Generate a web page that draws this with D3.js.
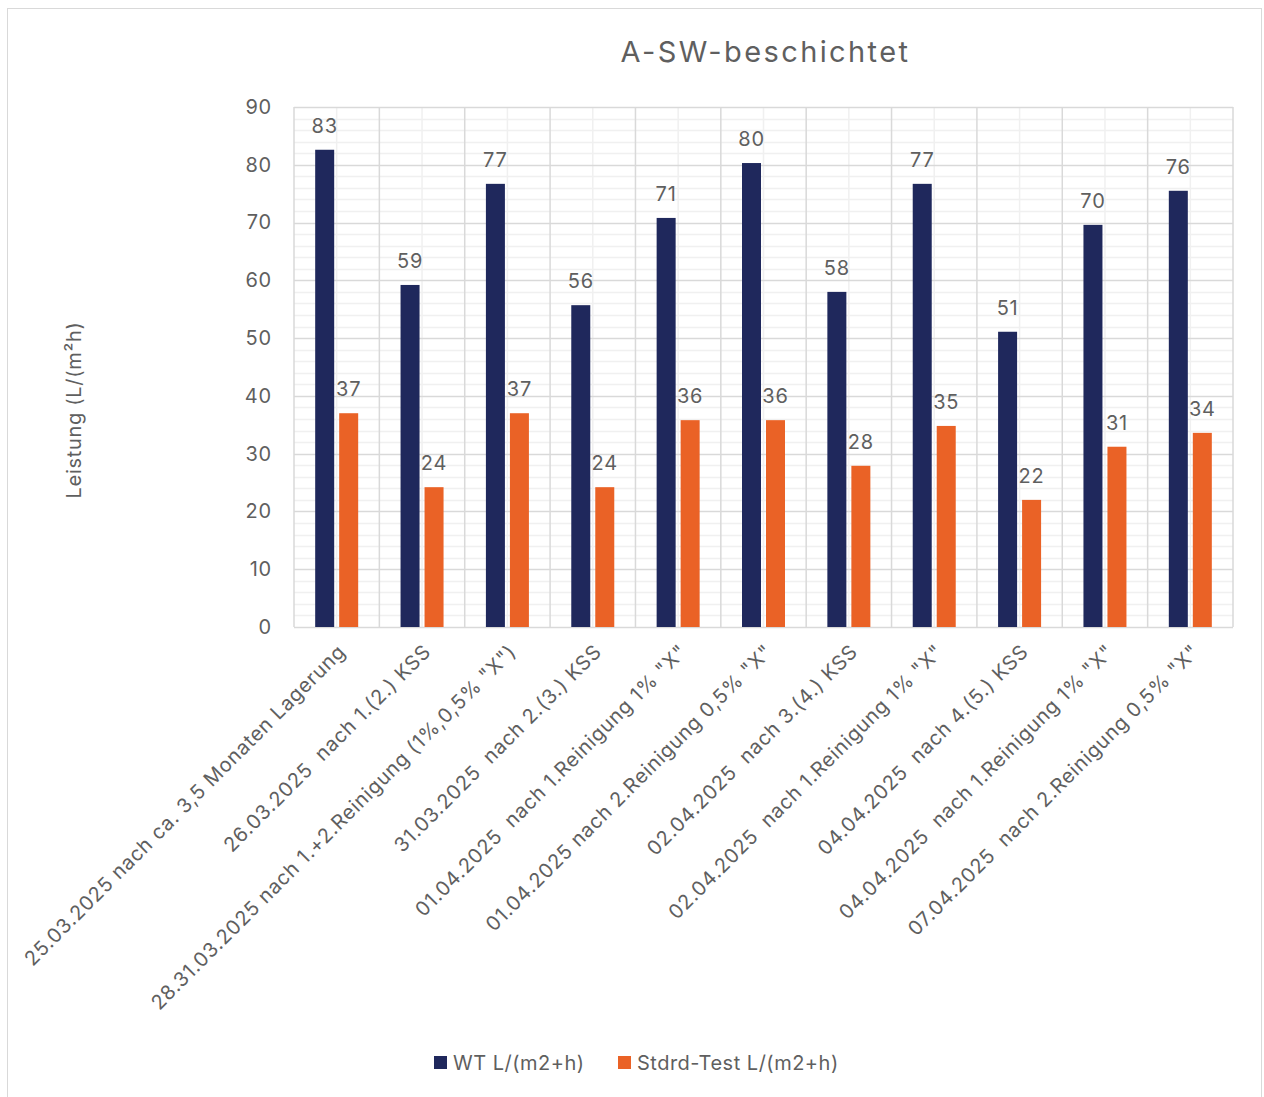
<!DOCTYPE html>
<html>
<head>
<meta charset="utf-8">
<script src="https://cdn.jsdelivr.net/npm/d3@7"></script>
<style>
  html, body { margin: 0; padding: 0; background: #fff; }
  svg { display: block; font-family: "Inter", "Liberation Sans", sans-serif; }
  .xlab text { white-space: pre; }
</style>
</head>
<body>
<svg id="chart" width="1264" height="1097"></svg>
<script>
// Measurement dates / conditions
const categories = [
  "25.03.2025 nach ca. 3,5 Monaten Lagerung",
  "26.03.2025  nach 1.(2.) KSS",
  "28.31.03.2025 nach 1.+2.Reinigung (1%,0,5% \"X\")",
  "31.03.2025  nach 2.(3.) KSS",
  "01.04.2025  nach 1.Reinigung 1% \"X\"",
  "01.04.2025 nach 2.Reinigung 0,5% \"X\"",
  "02.04.2025  nach 3.(4.) KSS",
  "02.04.2025  nach 1.Reinigung 1% \"X\"",
  "04.04.2025  nach 4.(5.) KSS",
  "04.04.2025  nach 1.Reinigung 1% \"X\"",
  "07.04.2025  nach 2.Reinigung 0,5% \"X\""
];

// WT L/(m2+h)
const wtValues = [82.6, 59.2, 76.7, 55.7, 70.8, 80.3, 58.0, 76.7, 51.1, 69.6, 75.5];
// Stdrd-Test L/(m2+h)
const stdValues = [37.0, 24.2, 37.0, 24.2, 35.8, 35.8, 27.9, 34.8, 22.0, 31.2, 33.6];

const seriesNames = ["WT L/(m2+h)", "Stdrd-Test L/(m2+h)"];
const yTicks = [0, 10, 20, 30, 40, 50, 60, 70, 80, 90];

const colors = ["#1F285C", "#EA6226"];
const textColor = "#5f5f5f";

const svg = d3.select("#chart");

// Chart frame
svg.append("rect")
  .attr("x", 7.5).attr("y", 8.5)
  .attr("width", 1254).attr("height", 1100)
  .attr("fill", "#fff").attr("stroke", "#d9d9d9").attr("stroke-width", 1);

const plot = { left: 294, right: 1233, top: 107, bottom: 627 };

const x = d3.scaleBand()
  .domain(d3.range(categories.length))
  .range([plot.left, plot.right])
  .paddingInner(0).paddingOuter(0);

const y = d3.scaleLinear().domain([0, 90]).range([plot.bottom, plot.top]);

const g = svg.append("g");

// Minor horizontal grid (every 2)
g.append("g").selectAll("line")
  .data(d3.range(0, 91, 2).filter(v => v % 10 !== 0))
  .join("line")
  .attr("x1", plot.left).attr("x2", plot.right)
  .attr("y1", d => Math.round(y(d)) + 0.5).attr("y2", d => Math.round(y(d)) + 0.5)
  .attr("stroke", "#f0f0f0").attr("stroke-width", 1.5);

// Minor vertical grid (category centres)
g.append("g").selectAll("line")
  .data(d3.range(categories.length))
  .join("line")
  .attr("x1", d => x(d) + x.bandwidth() / 2).attr("x2", d => x(d) + x.bandwidth() / 2)
  .attr("y1", plot.top).attr("y2", plot.bottom)
  .attr("stroke", "#f0f0f0").attr("stroke-width", 1.5);

// Major horizontal grid
g.append("g").selectAll("line")
  .data(yTicks)
  .join("line")
  .attr("x1", plot.left).attr("x2", plot.right)
  .attr("y1", d => Math.round(y(d)) + 0.5).attr("y2", d => Math.round(y(d)) + 0.5)
  .attr("stroke", "#d9d9d9").attr("stroke-width", 1.5);

// Major vertical grid (category boundaries)
g.append("g").selectAll("line")
  .data(d3.range(categories.length + 1))
  .join("line")
  .attr("x1", d => d < categories.length ? x(d) : plot.right)
  .attr("x2", d => d < categories.length ? x(d) : plot.right)
  .attr("y1", plot.top).attr("y2", plot.bottom)
  .attr("stroke", "#d9d9d9").attr("stroke-width", 1.5);

// Bars with value labels
const barW = 19, gap = 5;
const series = [wtValues, stdValues];
series.forEach((vals, si) => {
  const offset = si === 0 ? -gap / 2 - barW : gap / 2;
  const bars = g.append("g");
  bars.selectAll("rect")
    .data(vals)
    .join("rect")
    .attr("x", (d, i) => x(i) + x.bandwidth() / 2 + offset)
    .attr("y", d => y(d))
    .attr("width", barW)
    .attr("height", d => y(0) - y(d))
    .attr("fill", colors[si]);
  bars.selectAll("text")
    .data(vals)
    .join("text")
    .attr("x", (d, i) => x(i) + x.bandwidth() / 2 + offset + barW / 2)
    .attr("y", d => y(d) - 17)
    .attr("text-anchor", "middle")
    .attr("font-size", 20)
    .attr("letter-spacing", 0.8)
    .attr("fill", textColor)
    .text(d => d3.format(".0f")(d));
});

// Y axis labels
const yAxis = g.append("g")
  .attr("transform", `translate(${plot.left - 22},0)`)
  .call(d3.axisLeft(y).tickValues(yTicks).tickSize(0).tickPadding(0));
yAxis.select(".domain").remove();
yAxis.selectAll("text")
  .attr("font-size", 20).attr("fill", textColor)
  .attr("letter-spacing", 0.8)
  .attr("font-family", "Inter, 'Liberation Sans', sans-serif");

// X axis labels
const xAxis = g.append("g")
  .attr("class", "xlab")
  .attr("transform", `translate(0,${plot.bottom})`)
  .call(d3.axisBottom(x).tickSize(0).tickPadding(0).tickFormat(i => categories[i]));
xAxis.select(".domain").remove();
xAxis.selectAll("text")
  .attr("font-size", 20).attr("fill", textColor)
  .attr("letter-spacing", 0.75)
  .attr("font-family", "Inter, 'Liberation Sans', sans-serif")
  .attr("text-anchor", "end")
  .attr("dy", null)
  .attr("y", 0)
  .attr("transform", "translate(10,26) rotate(-45)");

// Axis title
svg.append("text")
  .attr("transform", `translate(81,${(plot.top + plot.bottom) / 2 + 43}) rotate(-90)`)
  .attr("text-anchor", "middle")
  .attr("font-size", 20).attr("fill", textColor)
  .attr("letter-spacing", 0.7)
  .text("Leistung (L/(m²h)");

// Title
svg.append("text")
  .attr("x", (plot.left + plot.right) / 2 + 2)
  .attr("y", 62)
  .attr("text-anchor", "middle")
  .attr("font-size", 29).attr("fill", textColor)
  .attr("letter-spacing", 2.4)
  .text("A-SW-beschichtet");

// Legend
const legend = svg.append("g").attr("transform", "translate(434,1063)");
const legendX = [0, 184];
seriesNames.forEach((name, i) => {
  const item = legend.append("g").attr("transform", `translate(${legendX[i]},0)`);
  item.append("rect").attr("x", 0).attr("y", -7).attr("width", 13).attr("height", 13).attr("fill", colors[i]);
  item.append("text").attr("x", 19).attr("y", 7)
    .attr("font-size", 20).attr("letter-spacing", 0.5)
    .attr("fill", textColor).text(name);
});
</script>
</body>
</html>
